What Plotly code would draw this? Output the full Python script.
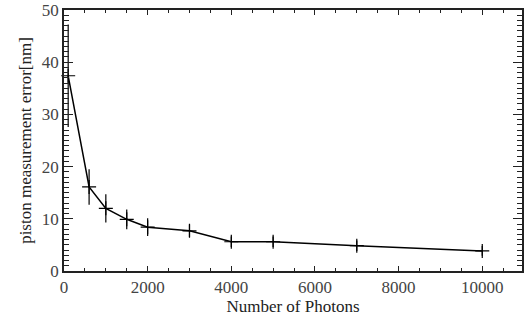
import plotly.graph_objects as go

photons = [100, 600, 1000, 1500, 2000, 3000, 4000, 5000, 7000, 10000]
piston_err = [37.4, 16.1, 12.0, 9.9, 8.4, 7.7, 5.6, 5.6, 4.85, 3.85]
err_bar = [9.8, 3.4, 2.7, 1.9, 1.7, 1.2, 1.0, 1.0, 1.0, 0.95]

x_ticks = [0, 2000, 4000, 6000, 8000, 10000]
x_ticklabels = ["0", "2000", "4000", "6000", "8000", "10000"]
y_ticks = [0, 10, 20, 30, 40, 50]
y_ticklabels = ["0", "10", "20", "30", "40", "50"]

font_family = "Liberation Serif"

fig = go.Figure()
fig.add_trace(go.Scatter(
    x=photons, y=piston_err,
    mode="lines+markers",
    line=dict(color="black", width=1.5),
    marker=dict(symbol="cross-thin", size=10, line=dict(color="black", width=1.2)),
    error_y=dict(type="data", array=err_bar, visible=True, width=0,
                 thickness=1.2, color="black"),
    showlegend=False,
    cliponaxis=False,
))

axis_common = dict(
    showline=True, linecolor="#222", linewidth=1.5, mirror="allticks",
    ticks="inside", tickcolor="#222", tickwidth=1.2,
    showgrid=False, zeroline=False,
    tickfont=dict(family=font_family, size=17, color="#444"),
)

fig.update_xaxes(
    range=[0, 10950], tickvals=x_ticks, ticktext=x_ticklabels, ticklen=5,
    minor=dict(ticks="inside", dtick=500, ticklen=3, tickcolor="#222", tickwidth=1, showgrid=False),
    title=dict(text="Number of Photons", font=dict(family=font_family, size=17, color="#222"), standoff=0),
    **axis_common,
)
fig.update_yaxes(
    range=[0, 50], tickvals=y_ticks, ticktext=y_ticklabels, ticklen=9,
    minor=dict(ticks="inside", dtick=1, ticklen=5, tickcolor="#222", tickwidth=1, showgrid=False),
    title=dict(text="piston measurement error[nm]", font=dict(family=font_family, size=17, color="#222"), standoff=6),
    **axis_common,
)

fig.update_layout(
    width=525, height=322,
    margin=dict(l=64, r=1, t=10, b=51),
    plot_bgcolor="white", paper_bgcolor="white",
    font=dict(family=font_family),
)

fig.write_html("out.html")
